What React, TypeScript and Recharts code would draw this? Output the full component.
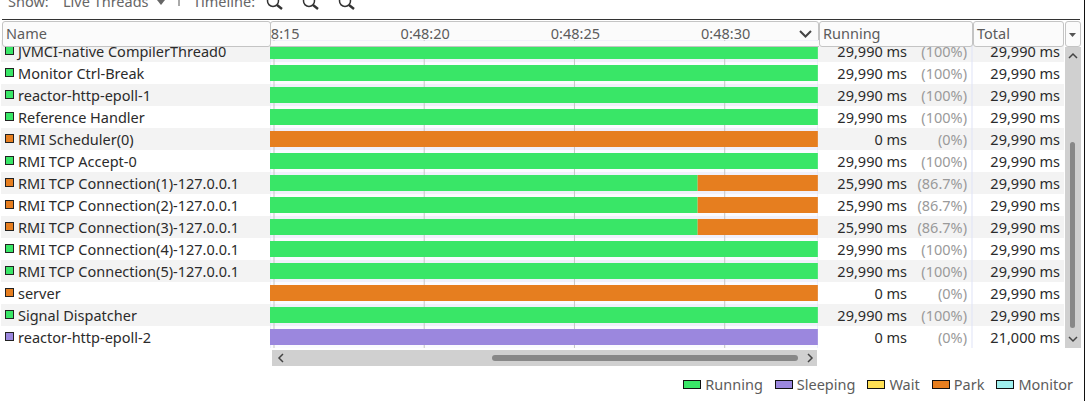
import { BarChart, Bar, XAxis, YAxis, CartesianGrid, Legend } from "recharts";

const threadNames = [
  "JVMCI-native CompilerThread0",
  "Monitor Ctrl-Break",
  "reactor-http-epoll-1",
  "Reference Handler",
  "RMI Scheduler(0)",
  "RMI TCP Accept-0",
  "RMI TCP Connection(1)-127.0.0.1",
  "RMI TCP Connection(2)-127.0.0.1",
  "RMI TCP Connection(3)-127.0.0.1",
  "RMI TCP Connection(4)-127.0.0.1",
  "RMI TCP Connection(5)-127.0.0.1",
  "server",
  "Signal Dispatcher",
  "reactor-http-epoll-2",
];
// time in ms since the start of the recording
const startMs = [0, 0, 0, 0, 0, 0, 0, 0, 0, 0, 0, 0, 0, 8990];
const runningMs = [29990, 29990, 29990, 29990, 0, 29990, 25990, 25990, 25990, 29990, 29990, 0, 29990, 0];
const sleepingMs = [0, 0, 0, 0, 0, 0, 0, 0, 0, 0, 0, 0, 0, 21000];
const waitMs = [0, 0, 0, 0, 0, 0, 0, 0, 0, 0, 0, 0, 0, 0];
const parkMs = [0, 0, 0, 0, 29990, 0, 4000, 4000, 4000, 0, 0, 29990, 0, 0];
const monitorMs = [0, 0, 0, 0, 0, 0, 0, 0, 0, 0, 0, 0, 0, 0];
const runningText = ["29,990 ms", "29,990 ms", "29,990 ms", "29,990 ms", "0 ms", "29,990 ms", "25,990 ms", "25,990 ms", "25,990 ms", "29,990 ms", "29,990 ms", "0 ms", "29,990 ms", "0 ms"];
const percentText = ["(100%)", "(100%)", "(100%)", "(100%)", "(0%)", "(100%)", "(86.7%)", "(86.7%)", "(86.7%)", "(100%)", "(100%)", "(0%)", "(100%)", "(0%)"];
const totalText = ["29,990 ms", "29,990 ms", "29,990 ms", "29,990 ms", "29,990 ms", "29,990 ms", "29,990 ms", "29,990 ms", "29,990 ms", "29,990 ms", "29,990 ms", "29,990 ms", "29,990 ms", "21,000 ms"];
const timeDomain = [11757, 29995];
const timeTicks = [11890, 16890, 21890, 26890];
const timeLabels = ["0:48:15", "0:48:20", "0:48:25", "0:48:30"];

const GREEN = "#39e667";
const PURPLE = "#9b87de";
const YELLOW = "#ffe054";
const ORANGE = "#e67e1f";
const CYAN = "#a0f0ee";
const STRIPE = "#f3f3f3";
const LAVENDER = "#dfe3f7";
const FONT = "'Noto Sans', sans-serif";

const chartData = threadNames.map((name, i) => ({
  name,
  start: startMs[i],
  running: runningMs[i],
  sleeping: sleepingMs[i],
  wait: waitMs[i],
  park: parkMs[i],
  monitor: monitorMs[i],
}));

const squareColor = (i: number) => {
  if (sleepingMs[i] > 0) return PURPLE;
  return parkMs[i] > 0 ? ORANGE : GREEN;
};

function NameTick({ x, y, index }: any) {
  return (
    <g>
      <rect x={x - 269} y={y - 11} width={269} height={22} fill={index % 2 === 0 ? STRIPE : "#fff"} />
      <rect x={x - 264.5} y={y - 4.5} width={8} height={8} fill={squareColor(index)} stroke="#222" />
      <text x={x - 252} y={y + 6} fontSize={14.5} fill="#2b2b2b">
        {threadNames[index]}
      </text>
    </g>
  );
}

function StatsTick({ x, y, index }: any) {
  return (
    <g>
      <rect x={x} y={y - 11} width={246} height={22} fill={index % 2 === 0 ? STRIPE : "#fff"} />
      <line x1={x + 154} x2={x + 154} y1={y - 11} y2={y + 11} stroke={LAVENDER} />
      <text x={x + 89} y={y + 6} fontSize={14.5} fill="#2b2b2b" textAnchor="end">
        {runningText[index]}
      </text>
      <text x={x + 149} y={y + 6} fontSize={14.5} fill="#9a9a9a" textAnchor="end">
        {percentText[index]}
      </text>
      <text x={x + 242} y={y + 6} fontSize={14.5} fill="#2b2b2b" textAnchor="end">
        {totalText[index]}
      </text>
    </g>
  );
}

function TimeTick({ x, y, index }: any) {
  return (
    <text x={x + 1} y={y - 1} fontSize={14.5} fill="#5c5c5c" textAnchor="middle">
      {timeLabels[index]}
    </text>
  );
}

function LegendRow({ payload }: any) {
  const items = (payload || []).filter((p: any) => p.dataKey !== "start");
  return (
    <div style={{ display: "flex", justifyContent: "flex-end", paddingRight: 17, fontFamily: FONT, fontSize: 14.5, color: "#5c5c5c" }}>
      {items.map((p: any) => (
        <span key={p.value} style={{ display: "flex", alignItems: "center", marginLeft: 12 }}>
          <span style={{ width: 16, height: 7, background: p.color, border: "1px solid #111", marginRight: 4 }} />
          {p.value}
        </span>
      ))}
    </div>
  );
}

function HeaderBox({ left, width, label, z = 2 }: { left: number; width: number; label?: string; z?: number }) {
  return (
    <div
      style={{
        position: "absolute",
        left,
        top: 21,
        width: width - 2,
        height: 24,
        background: "#fbfbfb",
        border: "1px solid #c4c4c4",
        borderRadius: 3,
        zIndex: z,
        fontSize: 14.5,
        lineHeight: "23px",
        color: "#5c5c5c",
        textIndent: 3,
      }}
    >
      {label}
    </div>
  );
}

function Magnifier({ cx }: { cx: number }) {
  return (
    <g stroke="#333" fill="none">
      <circle cx={cx} cy={1} r={5.5} strokeWidth={1.5} />
      <line x1={cx + 4} y1={5} x2={cx + 9} y2={9} strokeWidth={2.5} />
    </g>
  );
}

export default function App() {
  return (
    <div style={{ position: "absolute", left: 0, top: 0, width: 1090, height: 401, background: "#fff", overflow: "hidden", fontFamily: FONT }}>
      {/* timeline header sits under the chart so the tick labels show on it */}
      <HeaderBox left={270} width={549} z={0} />

      <div style={{ position: "absolute", left: 0, top: 0, zIndex: 1 }}>
        <BarChart
          width={1090}
          height={401}
          data={chartData}
          layout="vertical"
          barSize={16}
          margin={{ top: 20, right: 0, bottom: 31, left: 0 }}
        >
          <CartesianGrid
            vertical={false}
            stroke="none"
            horizontalFill={["#f0f0fa", "#fbfbff"]}
            horizontalCoordinatesGenerator={({ offset }: any) =>
              threadNames.map((_, i) => offset.top + (i * offset.height) / threadNames.length)
            }
          />
          <CartesianGrid horizontal={false} stroke="#c6c6c6" verticalValues={timeTicks} />
          <CartesianGrid horizontal={false} stroke={LAVENDER} verticalValues={timeDomain} />
          <XAxis
            type="number"
            orientation="top"
            height={20}
            domain={timeDomain}
            allowDataOverflow
            ticks={timeTicks}
            interval={0}
            axisLine={false}
            tickLine={false}
            tickSize={0}
            tickMargin={0}
            tick={TimeTick}
          />
          <YAxis
            type="category"
            dataKey="name"
            width={270}
            interval={0}
            axisLine={false}
            tickLine={false}
            tickSize={0}
            tickMargin={0}
            tick={NameTick}
          />
          <YAxis
            yAxisId="stats"
            type="category"
            dataKey="name"
            orientation="right"
            width={272}
            interval={0}
            axisLine={false}
            tickLine={false}
            tickSize={0}
            tickMargin={0}
            tick={StatsTick}
          />
          <Bar dataKey="start" stackId="t" fill="none" legendType="none" isAnimationActive={false} />
          <Bar dataKey="running" name="Running" stackId="t" fill={GREEN} isAnimationActive={false} />
          <Bar dataKey="sleeping" name="Sleeping" stackId="t" fill={PURPLE} isAnimationActive={false} />
          <Bar dataKey="wait" name="Wait" stackId="t" fill={YELLOW} isAnimationActive={false} />
          <Bar dataKey="park" name="Park" stackId="t" fill={ORANGE} isAnimationActive={false} />
          <Bar dataKey="monitor" name="Monitor" stackId="t" fill={CYAN} isAnimationActive={false} />
          <Legend
            content={LegendRow}
            itemSorter={null}
            wrapperStyle={{ position: "absolute", left: 0, top: 374, width: 1090, height: 22 }}
          />
        </BarChart>
      </div>

      {/* window chrome around the chart */}
      <div style={{ position: "absolute", left: 270, top: 41, width: 549, height: 5, background: "#fbfbfb", borderBottom: "1px solid #c4c4c4", zIndex: 2 }} />
      <HeaderBox left={2} width={269} label="Name" />
      <HeaderBox left={819} width={154} label="Running" />
      <HeaderBox left={973} width={91} label="Total" />
      <HeaderBox left={1065} width={16} />

      <div style={{ position: "absolute", left: 8, top: -9, fontSize: 14.5, color: "#666", zIndex: 3 }}>Show:</div>
      <div style={{ position: "absolute", left: 63, top: -9, fontSize: 14.5, color: "#666", zIndex: 3 }}>Live Threads</div>
      <div style={{ position: "absolute", left: 193, top: -9, fontSize: 14.5, color: "#666", zIndex: 3 }}>Timeline:</div>

      <svg width={1090} height={401} style={{ position: "absolute", left: 0, top: 0, zIndex: 3, pointerEvents: "none" }}>
        <path d="M157 0 L165 0 L161 5 Z" fill="#666" />
        <line x1={179} x2={179} y1={0} y2={6} stroke="#555" />
        <Magnifier cx={273} />
        <Magnifier cx={309} />
        <Magnifier cx={345} />
        <line x1={2} x2={1080} y1={19.5} y2={19.5} stroke="#333" />
        <line x1={1084.5} x2={1084.5} y1={0} y2={401} stroke="#111" />
        {/* timeline chevron */}
        <path d="M800 31 L805.5 36.5 L811 31" fill="none" stroke="#444" strokeWidth={2} />
        {/* column menu arrow */}
        <path d="M1069 33 L1076 33 L1072.5 37 Z" fill="#555" />
        {/* vertical scrollbar */}
        <rect x={1065} y={47} width={16} height={301} fill="#d0d0d0" />
        <rect x={1070} y={142} width={5} height={186} rx={2.5} fill="#888" />
        <path d="M1069 58 L1073 54 L1077 58" fill="none" stroke="#444" strokeWidth={1.5} />
        <path d="M1069 337 L1073 341 L1077 337" fill="none" stroke="#444" strokeWidth={1.5} />
        {/* horizontal scrollbar */}
        <rect x={272} y={350} width={545} height={16} fill="#d0d0d0" />
        <rect x={492} y={355} width={306} height={6} rx={3} fill="#888" />
        <path d="M283 354 L279 358 L283 362" fill="none" stroke="#444" strokeWidth={1.5} />
        <path d="M808 354 L812 358 L808 362" fill="none" stroke="#444" strokeWidth={1.5} />
      </svg>
    </div>
  );
}
